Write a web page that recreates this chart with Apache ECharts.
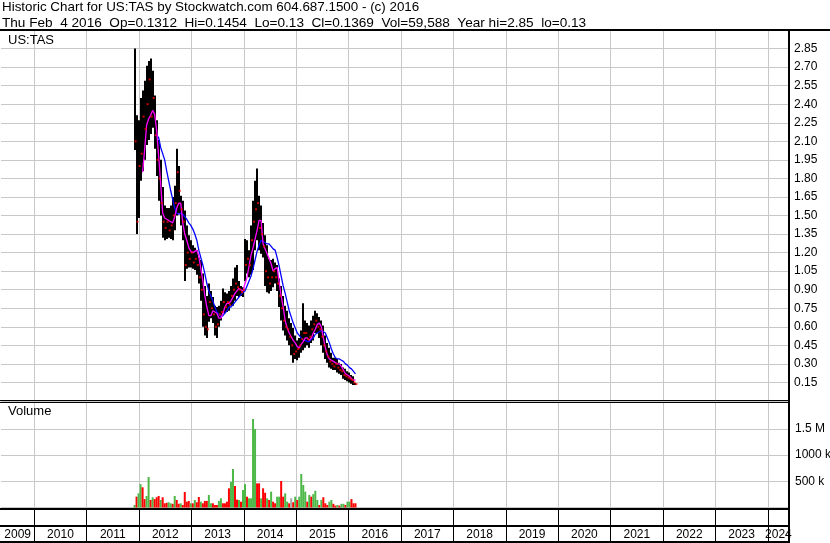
<!DOCTYPE html>
<html><head><meta charset="utf-8">
<script src="https://cdn.jsdelivr.net/npm/echarts@6/dist/echarts.min.js"></script>
<style>html,body{margin:0;padding:0;background:#fff}#c{width:830px;height:543px}</style>
</head><body><div id="c"></div>
<script>
// ---- data ----
const startYMD = [2011, 11, 1];   // first bar, (month 0-based)
const stepDays = 14;              // one bar every two weeks
const high = [2.85,2.31,2.27,2.45,2.51,2.59,2.71,2.75,2.77,2.67,
2.47,2.27,2.11,1.95,1.73,1.58,1.56,1.56,1.58,1.65,
1.74,2.04,1.90,1.66,1.62,1.54,1.42,1.34,1.30,1.26,
1.24,1.22,1.16,1.14,1.03,0.93,0.85,0.95,0.89,0.84,
0.77,0.76,0.77,0.81,0.91,0.88,0.87,0.89,0.93,0.99,
1.08,1.10,0.97,0.93,0.92,1.31,1.30,1.22,1.42,1.62,
1.78,1.88,1.66,1.58,1.44,1.34,1.26,1.15,1.14,1.15,
1.12,1.10,0.99,0.93,0.85,0.77,0.73,0.67,0.63,0.59,
0.53,0.49,0.51,0.57,0.79,0.65,0.63,0.61,0.65,0.69,
0.73,0.71,0.68,0.65,0.61,0.53,0.47,0.43,0.39,0.35,
0.35,0.34,0.31,0.30,0.27,0.26,0.24,0.23,0.21,0.20,
0.1454];
const low = [2.03,1.35,1.48,1.78,1.86,1.95,2.07,2.11,2.16,2.21,
2.04,1.82,1.62,1.50,1.32,1.30,1.31,1.32,1.31,1.30,
1.38,1.50,1.52,1.42,1.30,0.97,1.07,1.08,1.08,1.07,
1.06,1.02,0.95,0.81,0.60,0.53,0.51,0.64,0.67,0.63,
0.53,0.51,0.60,0.65,0.71,0.71,0.72,0.73,0.77,0.77,
0.81,0.85,0.84,0.85,0.84,0.97,1.03,1.00,1.02,1.06,
1.22,1.30,1.22,1.19,1.16,0.93,0.88,0.87,0.89,0.92,
0.95,0.89,0.76,0.65,0.57,0.53,0.49,0.45,0.37,0.31,
0.34,0.33,0.35,0.39,0.41,0.43,0.45,0.43,0.47,0.49,
0.55,0.55,0.51,0.45,0.39,0.34,0.31,0.27,0.26,0.25,
0.25,0.23,0.22,0.21,0.18,0.17,0.16,0.15,0.14,0.13,
0.13];
const close = [2.10,1.45,1.90,2.00,2.30,2.20,2.40,2.60,2.30,2.45,
2.15,1.95,1.80,1.60,1.45,1.40,1.45,1.38,1.42,1.50,
1.60,1.85,1.70,1.55,1.45,1.10,1.20,1.15,1.20,1.12,
1.15,1.10,1.00,0.90,0.70,0.60,0.58,0.80,0.75,0.70,
0.60,0.62,0.70,0.72,0.80,0.76,0.80,0.78,0.85,0.90,
0.95,0.92,0.90,0.88,0.90,1.10,1.15,1.10,1.30,1.45,
1.55,1.60,1.40,1.35,1.25,1.05,1.00,0.95,1.00,1.05,
1.00,0.95,0.85,0.75,0.65,0.60,0.58,0.52,0.45,0.38,
0.40,0.42,0.45,0.50,0.55,0.55,0.50,0.52,0.58,0.62,
0.65,0.60,0.58,0.52,0.45,0.40,0.36,0.32,0.30,0.28,
0.30,0.27,0.25,0.24,0.21,0.20,0.19,0.18,0.17,0.15,
0.1369];
const maShort = [null,null,null,null,1.85,2.03,2.23,2.28,2.31,2.35,
2.32,2.19,1.98,1.76,1.52,1.48,1.47,1.46,1.45,1.44,
1.49,1.56,1.60,1.60,1.44,1.35,1.30,1.24,1.21,1.20,
1.21,1.22,1.17,1.07,0.97,0.85,0.76,0.69,0.69,0.73,
0.72,0.71,0.67,0.67,0.71,0.76,0.79,0.79,0.81,0.84,
0.87,0.89,0.91,0.90,0.89,0.95,1.00,1.09,1.18,1.24,
1.31,1.38,1.46,1.46,1.27,1.23,1.19,1.15,1.11,1.05,
1.07,1.08,0.96,0.85,0.76,0.65,0.59,0.55,0.52,0.49,
0.47,0.44,0.43,0.46,0.48,0.51,0.51,0.49,0.51,0.55,
0.58,0.62,0.63,0.60,0.51,0.43,0.37,0.34,0.33,0.32,
0.31,0.30,0.30,0.28,0.25,0.22,0.21,0.20,0.18,0.17,
0.17];
const maLong = [null,null,null,null,null,null,null,null,null,null,
2.15,2.15,2.13,2.05,2.00,1.95,1.86,1.78,1.70,1.63,
1.56,1.52,1.51,1.52,1.51,1.49,1.47,1.44,1.42,1.39,
1.35,1.30,1.22,1.16,1.10,1.03,0.95,0.89,0.85,0.81,
0.76,0.72,0.70,0.68,0.69,0.71,0.73,0.76,0.76,0.78,
0.80,0.82,0.84,0.86,0.88,0.89,0.93,0.97,1.01,1.07,
1.14,1.21,1.26,1.30,1.29,1.28,1.27,1.27,1.25,1.23,
1.22,1.16,1.09,1.01,0.93,0.87,0.80,0.73,0.68,0.63,
0.59,0.55,0.53,0.51,0.49,0.49,0.48,0.48,0.50,0.51,
0.54,0.55,0.56,0.57,0.56,0.55,0.51,0.47,0.42,0.38,
0.35,0.34,0.34,0.33,0.32,0.30,0.29,0.27,0.26,0.24,
0.22];
// volume in thousands of shares
const volume = [48,206,270,445,385,160,220,581,143,195,
160,195,220,143,195,80,90,100,80,70,
220,143,70,80,48,295,111,125,80,80,
143,100,200,111,80,125,125,238,80,80,
48,48,125,175,80,80,111,365,485,733,
410,150,143,111,333,445,206,175,175,1686,
1495,460,460,175,365,280,175,143,302,111,
80,206,206,505,206,270,111,80,175,100,
206,143,206,638,429,302,111,238,206,255,
318,143,48,143,195,80,48,111,143,70,
35,48,35,70,70,48,111,111,160,80,
80];
// g = up, r = down, n = unchanged
const volDir = "grggrrggrg"+"rrrgrrrggr"+"grrgrrrrgr"+"grrgrrrggr"+"rrggrrrrgg"+
               "rrgrggrggg"+"grrgrrgrgr"+"rggrrggrnr"+"grggggrgrg"+"ggrgrrrggr"+"rgrggrggrr"+"r";
const priceTicks = {min: 0, max: 3.0, step: 0.15};
const volTicks = {min: 0, max: 2000, step: 500};
const volTickLabels = {500: '500 k', 1000: '1000 k', 1500: '1.5 M'};
const yearLabels = ['2009','2010','2011','2012','2013','2014','2015','2016','2017','2018','2019','2020','2021','2022','2023','2024'];
const headerLine1 = 'Historic Chart for US:TAS by Stockwatch.com 604.687.1500 - (c) 2016';
const headerLine2 = 'Thu Feb  4 2016  Op=0.1312  Hi=0.1454  Lo=0.13  Cl=0.1369  Vol=59,588  Year hi=2.85  lo=0.13';

// ---- build ----
const FONT = 'Liberation Sans, Arial, sans-serif';
const n = high.length;
const dates = [];
for (let i = 0; i < n; i++) dates.push(new Date(startYMD[0], startYMD[1], startYMD[2] + i * stepDays).getTime());
const axisStart = new Date(2009, 4, 14).getTime();
const axisEnd = new Date(2024, 4, 28).getTime();
const yearTicks = [];
for (let y = 2010; y <= 2024; y++) yearTicks.push(new Date(y, 0, 1).getTime());
const yearCenters = yearLabels.map(s => {
  const y = +s;
  const a = Math.max(new Date(y, 0, 1).getTime(), axisStart);
  const b = Math.min(new Date(y + 1, 0, 1).getTime(), axisEnd);
  return Math.round((a + b) / 2);
});

const GRID_L = 1, GRID_R = 41;
const GREY = '#c8c8c8';
function xAx(gridIndex, splitColor, extra) {
  return Object.assign({
    type: 'value', gridIndex, min: axisStart, max: axisEnd, scale: true,
    axisLine: {show: false},
    axisTick: {show: false, customValues: yearTicks},
    axisLabel: {show: false},
    splitLine: {show: true, lineStyle: {color: splitColor, width: 1}}
  }, extra || {});
}
function mkGrid(top, height) {
  return {left: GRID_L, right: GRID_R, top, height, containLabel: false, outerBoundsMode: 'none'};
}

const chart = echarts.init(document.getElementById('c'), null, {renderer: 'canvas'});
const colorMap = {g: '#4db848', r: '#ff0000', n: '#a8a8a8'};

chart.setOption({
  animation: false,
  backgroundColor: '#ffffff',
  grid: [mkGrid(30, 371), mkGrid(402.5, 105), mkGrid(509, 17), mkGrid(526, 16)],
  xAxis: [
    xAx(0, GREY),
    xAx(1, GREY),
    xAx(2, '#000', {axisLabel: {show: true, customValues: yearCenters, hideOverlap: false,
      formatter: v => { const k = yearCenters.indexOf(v); return k >= 0 ? yearLabels[k] : ''; },
      fontSize: 12, fontFamily: FONT, color: '#000', margin: 3}}),
    xAx(3, '#000')
  ],
  yAxis: [
    {type: 'value', gridIndex: 0, position: 'right', min: priceTicks.min, max: priceTicks.max, interval: priceTicks.step,
     axisLine: {show: false}, axisTick: {show: false},
     axisLabel: {fontSize: 12, fontFamily: FONT, color: '#000', margin: 5,
       formatter: v => (v <= 0.001 || v >= 2.999) ? '' : v.toFixed(2)},
     splitLine: {show: true, lineStyle: {color: GREY, width: 1}}},
    {type: 'value', gridIndex: 1, position: 'right', min: volTicks.min, max: volTicks.max, interval: volTicks.step,
     axisLine: {show: false}, axisTick: {show: false},
     axisLabel: {fontSize: 12, fontFamily: FONT, color: '#000', margin: 6, align: 'left',
       formatter: v => volTickLabels[Math.round(v)] || ''},
     splitLine: {show: true, lineStyle: {color: GREY, width: 1}}},
    {type: 'value', gridIndex: 2, show: false},
    {type: 'value', gridIndex: 3, show: false}
  ],
  series: [
    {type: 'custom', xAxisIndex: 0, yAxisIndex: 0, z: 2,
     data: dates.map((d, i) => [d, high[i], low[i]]),
     encode: {x: 0, y: [1, 2]},
     renderItem: function (params, api) {
       const t = api.value(0);
       const p1 = api.coord([t, api.value(1)]);
       const p2 = api.coord([t, api.value(2)]);
       return {type: 'rect',
         shape: {x: Math.round(p1[0]) - 1, y: p1[1], width: 2, height: Math.max(1, p2[1] - p1[1])},
         style: {fill: '#000'}};
     }},
    {type: 'line', xAxisIndex: 0, yAxisIndex: 0, z: 3, data: dates.map((d, i) => [d, maLong[i]]),
     showSymbol: false, connectNulls: false, lineStyle: {color: '#0000ff', width: 1.3}},
    {type: 'line', xAxisIndex: 0, yAxisIndex: 0, z: 4, data: dates.map((d, i) => [d, maShort[i]]),
     showSymbol: false, connectNulls: false, lineStyle: {color: '#ff00ff', width: 1.3}},
    {type: 'scatter', xAxisIndex: 0, yAxisIndex: 0, z: 5, data: dates.map((d, i) => [d, close[i]]),
     symbol: 'rect', symbolSize: [2, 2], symbolOffset: [1, 0], itemStyle: {color: '#ff0000'}},
    {type: 'bar', xAxisIndex: 1, yAxisIndex: 1, barWidth: 2,
     data: dates.map((d, i) => [d, volume[i]]),
     itemStyle: {color: p => colorMap[volDir[p.dataIndex]] || '#a8a8a8'}}
  ],
  graphic: [
    {type: 'text', left: 2, top: 1, style: {text: headerLine1, font: '13.4px ' + FONT, fill: '#000'}},
    {type: 'text', left: 2, top: 16, style: {text: headerLine2, font: '13.6px ' + FONT, fill: '#000'}},
    {type: 'text', left: 8, top: 34, z: 10, style: {text: 'US:TAS', font: '13px ' + FONT, fill: '#000'}},
    {type: 'text', left: 8, top: 405, z: 10, style: {text: 'Volume', font: '13px ' + FONT, fill: '#000'}},
    {type: 'rect', z: 20, shape: {x: 0, y: 29, width: 830, height: 2}, style: {fill: '#000'}},
    {type: 'rect', z: 20, shape: {x: 788, y: 30, width: 2, height: 513}, style: {fill: '#000'}},
    {type: 'rect', z: 20, shape: {x: 0, y: 400, width: 789, height: 1}, style: {fill: '#000'}},
    {type: 'rect', z: 20, shape: {x: 0, y: 402, width: 789, height: 1}, style: {fill: '#000'}},
    {type: 'rect', z: 20, shape: {x: 0, y: 508, width: 789, height: 2}, style: {fill: '#000'}},
    {type: 'rect', z: 20, shape: {x: 0, y: 525, width: 789, height: 2}, style: {fill: '#000'}},
    {type: 'rect', z: 20, shape: {x: 0, y: 541, width: 789, height: 2}, style: {fill: '#000'}}
  ]
});
</script></body></html>
